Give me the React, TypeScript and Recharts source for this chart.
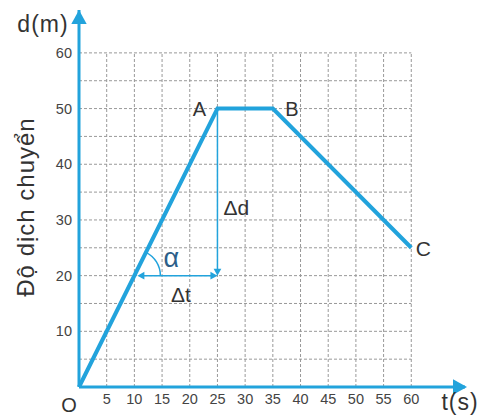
import React from "react";
import { ComposedChart, Line, XAxis, YAxis, ReferenceLine, ReferenceDot, LabelList } from "recharts";

// motion path: t (s) vs d (m)
const times = [0, 25, 35, 60];
const distances = [0, 50, 50, 25];
const pointNames = ["O", "A", "B", "C"];

const xTicks = [5, 10, 15, 20, 25, 30, 35, 40, 45, 50, 55, 60];
const yTicks = [10, 20, 30, 40, 50, 60];
const gridValues = [5, 10, 15, 20, 25, 30, 35, 40, 45, 50, 55, 60];

// slope construction: Δt from t=10 to t=25 at d=20, Δd from d=50 to d=20 at t=25
const deltaTFrom = 10;
const deltaTTo = 25;
const deltaTAt = 20;
const deltaDFrom = 50;
const deltaDTo = 20;
const deltaDAt = 25;

const X_MAX = 69.7;
const Y_MAX = 67.7;
const BLUE = "#22a3dc";
const FONT = "'Liberation Sans', Arial, sans-serif";

const pathData = times.map((t, i) => ({ t, d: distances[i], name: pointNames[i] }));

const labelOffsets: Record<string, [number, number, number]> = {
  O: [-10, 18, 20],
  A: [-18, 0, 20],
  B: [19, 0, 20],
  C: [12, 1, 21],
};

function arrowHead(x: number, y: number, dx: number, dy: number, size: number, color: string) {
  const len = Math.hypot(dx, dy);
  const ux = dx / len;
  const uy = dy / len;
  const bx = x - ux * size;
  const by = y - uy * size;
  const w = size * 0.55;
  const pts = `${x},${y} ${bx - uy * w},${by + ux * w} ${bx + uy * w},${by - ux * w}`;
  return <polygon points={pts} fill={color} />;
}

function PointLabel(props: any) {
  const { x, y, value } = props;
  const off = labelOffsets[value];
  if (!off) return null;
  return (
    <text x={x + off[0]} y={y + off[1]} textAnchor="middle" dominantBaseline="central" fontSize={off[2]} fill="#333" fontFamily={FONT}>
      {value}
    </text>
  );
}

export default function App() {
  return (
    <div style={{ position: "relative", width: 485, height: 415, background: "#fff" }}>
      <style>{`body{margin:0}`}</style>
      <ComposedChart width={485} height={415} data={pathData} margin={{ top: 10, right: 20, bottom: 0, left: 0 }}>
        <XAxis
          type="number"
          dataKey="t"
          domain={[0, X_MAX]}
          ticks={xTicks}
          height={28}
          tickLine={false}
          tickSize={0}
          tickMargin={7}
          axisLine={{ stroke: BLUE, strokeWidth: 3 }}
          tick={{ fill: "#444", fontSize: 14.5, fontFamily: FONT }}
        />
        <YAxis
          type="number"
          domain={[0, Y_MAX]}
          ticks={yTicks}
          width={79}
          tickLine={false}
          tickSize={0}
          tickMargin={7}
          axisLine={{ stroke: BLUE, strokeWidth: 3 }}
          tick={{ fill: "#444", fontSize: 14.5, fontFamily: FONT }}
        />
        {gridValues.map((v) => (
          <ReferenceLine key={"v" + v} segment={[{ x: v, y: 0 }, { x: v, y: 60 }]} stroke="#999" strokeDasharray="3 2" strokeWidth={1} />
        ))}
        {gridValues.map((v) => (
          <ReferenceLine key={"h" + v} segment={[{ x: 0, y: v }, { x: 60, y: v }]} stroke="#999" strokeDasharray="3 2" strokeWidth={1} />
        ))}
        <ReferenceDot x={X_MAX} y={0} ifOverflow="visible" shape={(p: any) => arrowHead(p.cx + 2, p.cy, 1, 0, 14, BLUE)} />
        <ReferenceDot x={0} y={Y_MAX} ifOverflow="visible" shape={(p: any) => arrowHead(p.cx, p.cy, 0, -1, 14, BLUE)} />
        <ReferenceLine
          segment={[{ x: deltaDAt, y: deltaDFrom }, { x: deltaDAt, y: deltaDTo }]}
          shape={(p: any) => (
            <g>
              <line x1={p.x1} y1={p.y1} x2={p.x2} y2={p.y2 - 4} stroke={BLUE} strokeWidth={1.5} />
              {arrowHead(p.x2, p.y2, 0, 1, 7, BLUE)}
              <text x={p.x1 + 19} y={(p.y1 + p.y2) / 2 + 15} textAnchor="middle" dominantBaseline="central" fontSize={21} fill="#333" fontFamily={FONT}>
                Δd
              </text>
            </g>
          )}
        />
        <ReferenceLine
          segment={[{ x: deltaTFrom, y: deltaTAt }, { x: deltaTTo, y: deltaTAt }]}
          shape={(p: any) => (
            <g>
              <line x1={p.x1 + 6} y1={p.y1} x2={p.x2 - 4} y2={p.y2} stroke={BLUE} strokeWidth={1.5} />
              {arrowHead(p.x1 + 3, p.y1, -1, 0, 7, BLUE)}
              {arrowHead(p.x2, p.y2, 1, 0, 7, BLUE)}
              <text x={(p.x1 + p.x2) / 2 + 5} y={p.y1 + 19} textAnchor="middle" dominantBaseline="central" fontSize={21} fill="#333" fontFamily={FONT}>
                Δt
              </text>
            </g>
          )}
        />
        <ReferenceDot
          x={deltaTFrom}
          y={deltaTAt}
          ifOverflow="visible"
          shape={(p: any) => {
            const r = 26;
            const ang = Math.atan2(2 * (377 / Y_MAX), 386 / X_MAX);
            const ex = p.cx + r * Math.cos(ang);
            const ey = p.cy - r * Math.sin(ang);
            return (
              <g>
                <path d={`M ${p.cx + r} ${p.cy} A ${r} ${r} 0 0 0 ${ex} ${ey}`} fill="none" stroke={BLUE} strokeWidth={1.5} />
                <text x={p.cx + 37} y={p.cy - 18} textAnchor="middle" dominantBaseline="central" fontSize={27} fill="#2d5f8a" fontFamily={FONT}>
                  α
                </text>
              </g>
            );
          }}
        />
        <Line type="linear" dataKey="d" stroke={BLUE} strokeWidth={4} dot={false} isAnimationActive={false}>
          <LabelList dataKey="name" content={PointLabel} />
        </Line>
      </ComposedChart>
      <svg width={485} height={415} style={{ position: "absolute", left: 0, top: 0, pointerEvents: "none" }}>
        <text x={43} y={24} textAnchor="middle" dominantBaseline="central" fontSize={23} letterSpacing={1} fill="#333" fontFamily={FONT}>
          d(m)
        </text>
        <text x={460} y={402} textAnchor="middle" dominantBaseline="central" fontSize={23} letterSpacing={1} fill="#333" fontFamily={FONT}>
          t(s)
        </text>
        <text
          x={25}
          y={207}
          transform="rotate(-90 25 207)"
          textAnchor="middle"
          dominantBaseline="central"
          fontSize={24}
          letterSpacing={1}
          fill="#333"
          fontFamily={FONT}
        >
          Độ dịch chuyển
        </text>
      </svg>
    </div>
  );
}
